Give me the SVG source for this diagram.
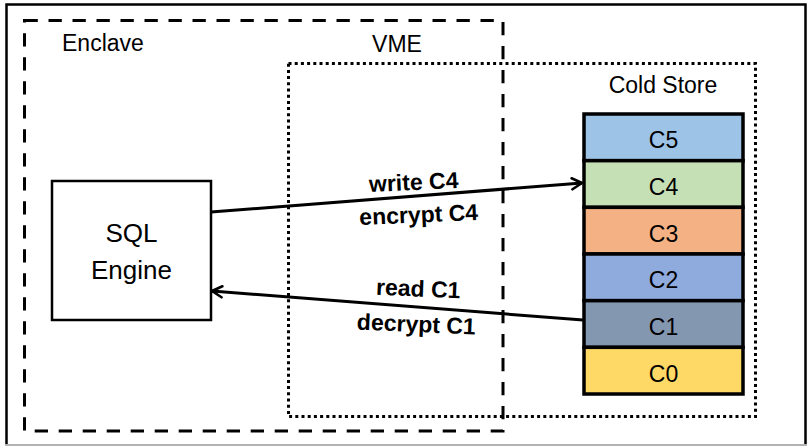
<svg xmlns="http://www.w3.org/2000/svg" width="812" height="446" viewBox="0 0 812 446">
  <defs>
    <style>
      .lbl { font-family: "Liberation Sans", Arial, sans-serif; font-size: 23px; fill: #000; }
      .big { font-family: "Liberation Sans", Arial, sans-serif; font-size: 26px; fill: #000; text-anchor: middle; }
      .edge { font-family: "Liberation Sans", Arial, sans-serif; font-size: 23px; font-weight: bold; fill: #000; text-anchor: middle; }
      .cell text { font-family: "Liberation Sans", Arial, sans-serif; font-size: 23px; fill: #000; text-anchor: middle; }
      .cell rect { stroke: #000; stroke-width: 3.5; }
      .conn { stroke: #000; stroke-width: 3; fill: none; marker-end: url(#arrow); }
    </style>
    <marker id="arrow" viewBox="0 0 14 14" refX="12" refY="7" markerWidth="14" markerHeight="14" markerUnits="userSpaceOnUse" orient="auto">
      <path d="M2,1.5 L12,7 L2,12.5" fill="none" stroke="#000" stroke-width="2.6" stroke-linecap="round" stroke-linejoin="round"/>
    </marker>
  </defs>

  <rect width="812" height="446" fill="#fff"/>

  <g id="frame">
    <path d="M6.5,444 L6.5,4.5 L805.5,4.5 L805.5,444" fill="none" stroke="#000" stroke-width="2.5"/>
    <line x1="5" y1="445" x2="807" y2="445" stroke="#999" stroke-width="1.5"/>
  </g>

  <g id="enclave">
    <rect x="24.5" y="20.5" width="478.5" height="410.5" fill="none" stroke="#000" stroke-width="3" stroke-dasharray="13.3 10.7"/>
    <text class="lbl" x="62" y="51">Enclave</text>
  </g>

  <g id="vme">
    <rect x="288.5" y="63.5" width="467" height="353" fill="none" stroke="#000" stroke-width="3" stroke-dasharray="3 3.2"/>
    <text class="lbl" x="397" y="52" text-anchor="middle">VME</text>
  </g>

  <g id="cold-store">
    <text class="lbl" x="663" y="93" text-anchor="middle">Cold Store</text>
    <g class="cell" id="c5"><rect x="584" y="114" width="159" height="46.67" fill="#9DC3E6"/><text x="663.5" y="148">C5</text></g>
    <g class="cell" id="c4"><rect x="584" y="160.67" width="159" height="46.67" fill="#C5E0B4"/><text x="663.5" y="195">C4</text></g>
    <g class="cell" id="c3"><rect x="584" y="207.33" width="159" height="46.67" fill="#F4B183"/><text x="663.5" y="241.5">C3</text></g>
    <g class="cell" id="c2"><rect x="584" y="254" width="159" height="46.67" fill="#8FAADC"/><text x="663.5" y="288">C2</text></g>
    <g class="cell" id="c1"><rect x="584" y="300.67" width="159" height="46.67" fill="#8497B0"/><text x="663.5" y="335">C1</text></g>
    <g class="cell" id="c0"><rect x="584" y="347.33" width="159" height="46.67" fill="#FFD966"/><text x="663.5" y="381.5">C0</text></g>
  </g>

  <g id="sql-engine">
    <rect x="52" y="181" width="159" height="139" fill="#fff" stroke="#000" stroke-width="2.5"/>
    <text class="big" x="131.5" y="242">SQL</text>
    <text class="big" x="131.5" y="279">Engine</text>
  </g>

  <g id="connectors">
    <line class="conn" x1="211" y1="212" x2="582" y2="183"/>
    <line class="conn" x1="583" y1="320" x2="212" y2="291"/>
    <text class="edge" transform="translate(414,190) rotate(-2.5)">write C4</text>
    <text class="edge" transform="translate(419,222.5) rotate(-2.5)">encrypt C4</text>
    <text class="edge" transform="translate(418,296.5) rotate(2.5)">read C1</text>
    <text class="edge" transform="translate(416,332) rotate(2.5)">decrypt C1</text>
  </g>
</svg>
